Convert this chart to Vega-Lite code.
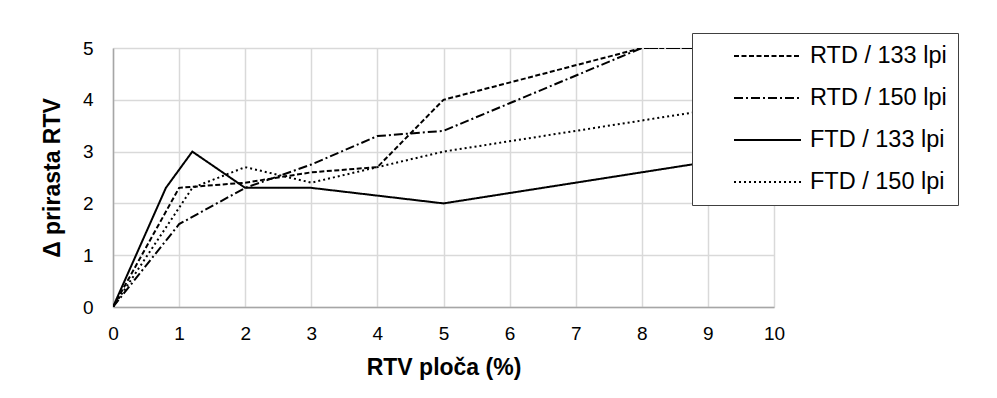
{
  "$schema": "https://vega.github.io/schema/vega-lite/v6.json",
  "width": 661,
  "height": 259,
  "autosize": {"type": "none"},
  "padding": {"left": 113, "top": 48, "right": 223, "bottom": 91},
  "background": "white",
  "config": {
    "view": {"stroke": null},
    "font": "Liberation Sans"
  },
  "data": {
    "values": [
      {"s": "RTD / 133 lpi", "x": 0, "y": 0},
      {"s": "RTD / 133 lpi", "x": 1, "y": 2.3},
      {"s": "RTD / 133 lpi", "x": 2, "y": 2.4},
      {"s": "RTD / 133 lpi", "x": 3, "y": 2.6},
      {"s": "RTD / 133 lpi", "x": 4, "y": 2.7},
      {"s": "RTD / 133 lpi", "x": 5, "y": 4.0},
      {"s": "RTD / 133 lpi", "x": 8, "y": 5.0},
      {"s": "RTD / 133 lpi", "x": 10, "y": 5.0},
      {"s": "RTD / 150 lpi", "x": 0, "y": 0},
      {"s": "RTD / 150 lpi", "x": 1, "y": 1.6},
      {"s": "RTD / 150 lpi", "x": 2, "y": 2.3},
      {"s": "RTD / 150 lpi", "x": 3, "y": 2.75},
      {"s": "RTD / 150 lpi", "x": 4, "y": 3.3},
      {"s": "RTD / 150 lpi", "x": 5, "y": 3.4},
      {"s": "RTD / 150 lpi", "x": 8, "y": 5.0},
      {"s": "RTD / 150 lpi", "x": 10, "y": 5.0},
      {"s": "FTD / 133 lpi", "x": 0, "y": 0},
      {"s": "FTD / 133 lpi", "x": 0.8, "y": 2.3},
      {"s": "FTD / 133 lpi", "x": 1.2, "y": 3.0},
      {"s": "FTD / 133 lpi", "x": 2, "y": 2.3},
      {"s": "FTD / 133 lpi", "x": 3, "y": 2.3},
      {"s": "FTD / 133 lpi", "x": 5, "y": 2.0},
      {"s": "FTD / 133 lpi", "x": 10, "y": 3.0},
      {"s": "FTD / 150 lpi", "x": 0, "y": 0},
      {"s": "FTD / 150 lpi", "x": 1.2, "y": 2.3},
      {"s": "FTD / 150 lpi", "x": 2, "y": 2.7},
      {"s": "FTD / 150 lpi", "x": 3, "y": 2.4},
      {"s": "FTD / 150 lpi", "x": 4, "y": 2.7},
      {"s": "FTD / 150 lpi", "x": 5, "y": 3.0},
      {"s": "FTD / 150 lpi", "x": 10, "y": 4.0}
    ]
  },
  "mark": {"type": "line", "color": "black", "strokeWidth": 2, "clip": true},
  "encoding": {
    "x": {
      "field": "x",
      "type": "quantitative",
      "scale": {"domain": [0, 10], "nice": false},
      "axis": {
        "values": [0, 1, 2, 3, 4, 5, 6, 7, 8, 9, 10],
        "grid": true,
        "gridColor": "#d9d9d9",
        "gridWidth": 1.5,
        "domainColor": "#a6a6a6",
        "domainWidth": 1.5,
        "ticks": false,
        "labelFlush": false,
        "labelFontSize": 19,
        "labelColor": "black",
        "labelPadding": 17,
        "title": "RTV ploča (%)",
        "titleFontSize": 23,
        "titleFontWeight": "bold",
        "titleColor": "black",
        "titlePadding": 13
      }
    },
    "y": {
      "field": "y",
      "type": "quantitative",
      "scale": {"domain": [0, 5], "nice": false},
      "axis": {
        "values": [0, 1, 2, 3, 4, 5],
        "grid": true,
        "gridColor": "#d9d9d9",
        "gridWidth": 1.5,
        "domainColor": "#a6a6a6",
        "domainWidth": 1.5,
        "ticks": false,
        "labelFlush": false,
        "labelFontSize": 19,
        "labelColor": "black",
        "labelPadding": 20,
        "title": "Δ prirasta RTV",
        "titleFontSize": 23,
        "titleFontWeight": "bold",
        "titleColor": "black",
        "titlePadding": 18
      }
    },
    "strokeDash": {
      "field": "s",
      "type": "nominal",
      "scale": {
        "domain": ["RTD / 133 lpi", "RTD / 150 lpi", "FTD / 133 lpi", "FTD / 150 lpi"],
        "range": [[5, 2.5], [9, 3, 2, 3], [1, 0], [2, 3]]
      },
      "legend": {
        "title": null,
        "orient": "none",
        "legendX": 579,
        "legendY": -15,
        "fillColor": "white",
        "strokeColor": "#404040",
        "padding": 11,
        "clipHeight": 24,
        "rowPadding": 18,
        "symbolType": "stroke",
        "symbolSize": 4489,
        "symbolStrokeWidth": 2,
        "symbolStrokeColor": "black",
        "symbolOffset": 30,
        "labelOffset": 8,
        "labelFontSize": 23.5,
        "labelColor": "black",
        "labelExpr": "datum.label + '\u00a0\u00a0\u00a0\u00a0\u00a0'"
      }
    }
  }
}
